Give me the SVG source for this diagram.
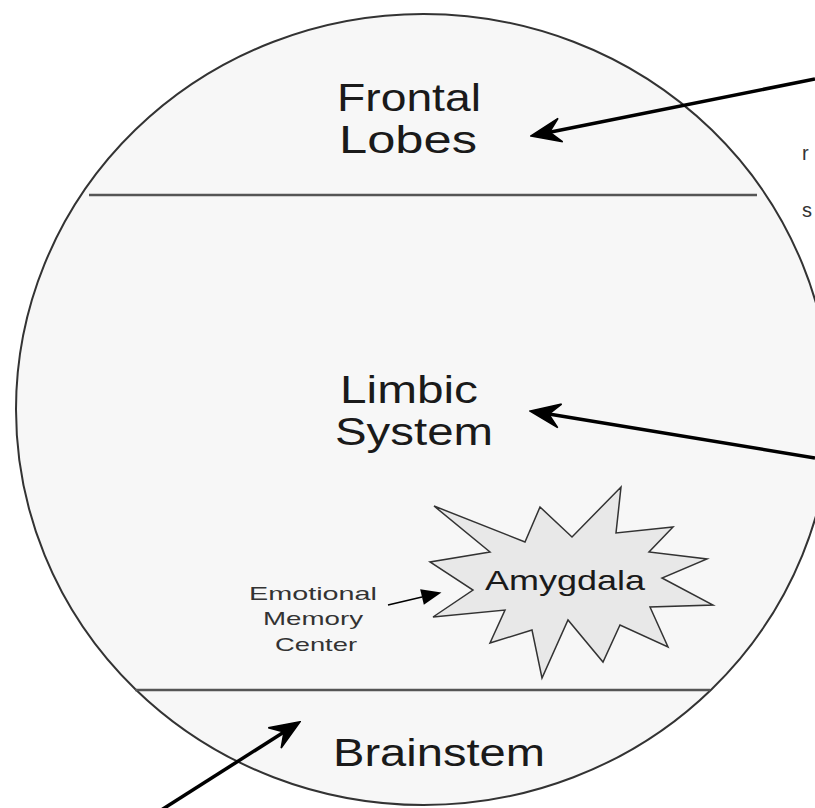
<svg xmlns="http://www.w3.org/2000/svg" width="815" height="808" viewBox="0 0 815 808">
<defs>
<style>
.lbl{font-family:"Liberation Sans",Arial,sans-serif;fill:#1a1a1a;text-anchor:middle}
.big{font-size:38px}
.small{font-size:19px;fill:#333}
.div{stroke:#555;stroke-width:2.5;fill:none}
.arr{stroke:#000;stroke-width:3.5;fill:none;marker-end:url(#head)}
</style>
<marker id="head" viewBox="-12 -13 32 26" refX="0" refY="0" markerWidth="32" markerHeight="26" markerUnits="userSpaceOnUse" orient="auto">
<path d="M19,0 L-11,-12 L0,0 L-11,12 Z" fill="#000" stroke="#000" stroke-width="1.5" stroke-linejoin="miter"/>
</marker>
<marker id="headS" viewBox="-2 -9 24 18" refX="0" refY="0" markerWidth="24" markerHeight="18" markerUnits="userSpaceOnUse" orient="auto">
<path d="M20,0 L0,-8 L0,8 Z" fill="#000"/>
</marker>
</defs>
<rect width="815" height="808" fill="#fff"/>
<g id="brain">
<ellipse cx="423.5" cy="409.5" rx="407.5" ry="395.5" fill="#f7f7f7" stroke="#333" stroke-width="2"/>
<line class="div" x1="89" y1="195" x2="757" y2="195"/>
<line class="div" x1="135" y1="690" x2="710" y2="690"/>
</g>
<g id="frontal">
<text class="lbl big" x="409" y="111" textLength="144" lengthAdjust="spacingAndGlyphs">Frontal</text>
<text class="lbl big" x="408" y="153" textLength="138" lengthAdjust="spacingAndGlyphs">Lobes</text>
</g>
<g id="limbic">
<text class="lbl big" x="409" y="403" textLength="138" lengthAdjust="spacingAndGlyphs">Limbic</text>
<text class="lbl big" x="414" y="445" textLength="158" lengthAdjust="spacingAndGlyphs">System</text>
</g>
<g id="amygdala">
<polygon points="434,506 525,542 540,507 572,537 621,487 616,533 673,527 649,552 707,559 662,578 713,605 650,607 668,647 620,625 603,662 568,620 542,678 532,630 490,643 505,610 433,617 473,590 430,562 490,552" fill="#e8e8e8" stroke="#333" stroke-width="1.5" stroke-linejoin="miter"/>
<text class="lbl" x="565" y="590" style="font-size:28px" textLength="160" lengthAdjust="spacingAndGlyphs">Amygdala</text>
</g>
<g id="emotional">
<text class="lbl small" x="313" y="600" textLength="128" lengthAdjust="spacingAndGlyphs">Emotional</text>
<text class="lbl small" x="313" y="625" textLength="100" lengthAdjust="spacingAndGlyphs">Memory</text>
<text class="lbl small" x="316" y="651" textLength="82" lengthAdjust="spacingAndGlyphs">Center</text>
</g>
<g id="brainstem">
<text class="lbl big" x="439" y="766" textLength="212" lengthAdjust="spacingAndGlyphs">Brainstem</text>
</g>
<g id="offpage">
<text class="lbl small" x="802" y="160" style="text-anchor:start;font-size:20px">r</text>
<text class="lbl small" x="802" y="217" style="text-anchor:start;font-size:20px">s</text>
</g>
<g id="connectors">
<line class="arr" x1="815" y1="79" x2="549.6" y2="132.2"/>
<line class="arr" x1="815" y1="458" x2="548.8" y2="414.1"/>
<line class="arr" x1="155" y1="814" x2="284" y2="732"/>
<line x1="388" y1="605" x2="422" y2="597" stroke="#000" stroke-width="1.5" marker-end="url(#headS)"/>
</g>
</svg>
